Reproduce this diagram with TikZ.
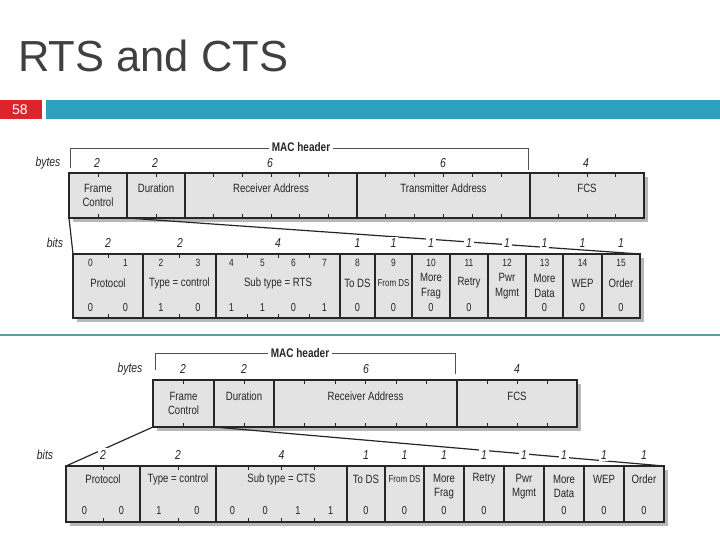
\documentclass[tikz,border=0pt]{standalone}
\usepackage{fontspec}
\setmainfont{Liberation Sans}
\newfontfamily\dfont[FakeStretch=0.8]{Liberation Sans}
\usetikzlibrary{calc}
\definecolor{tealbar}{HTML}{2DA0BD}
\definecolor{redbox}{HTML}{D9252B}
\definecolor{sepline}{HTML}{5E9EA0}
\definecolor{titlegray}{HTML}{404040}
\definecolor{boxfill}{HTML}{E3E3E3}
\definecolor{inkgray}{HTML}{262626}
\definecolor{shadowgray}{HTML}{B8B8B8}
\tikzset{
 fieldbox/.style={draw=inkgray, line width=1.1pt, fill=boxfill, inner sep=0pt, outer sep=0pt, anchor=north west},
 txt/.style={font=\dfont\fontsize{12}{14.5}\selectfont, text=inkgray, inner sep=1pt, align=center},
 smalltxt/.style={font=\dfont\fontsize{10}{12}\selectfont, text=inkgray, inner sep=1pt},
 bnumtxt/.style={font=\dfont\fontsize{10.5}{12}\selectfont, text=inkgray, inner sep=1pt},
 valtxt/.style={font=\dfont\fontsize{11.5}{13}\selectfont, text=inkgray, inner sep=1pt},
 ital/.style={font=\dfont\itshape\fontsize{13}{14}\selectfont, text=inkgray, inner sep=2pt},
 itfill/.style={ital, fill=white},
 hdrtxt/.style={font=\dfont\bfseries\fontsize{12.5}{14}\selectfont, text=inkgray, inner sep=3pt, fill=white},
 tickln/.style={draw=inkgray, line width=0.9pt},
 expln/.style={draw=inkgray, line width=1.2pt},
 bracket/.style={draw=inkgray!80, line width=0.9pt},
 shade/.style={fill=shadowgray},
}
\newcommand\mkfield[5]{\node[fieldbox, minimum width={(#3)-(#2)}, minimum height={(#5)-(#4)}] (#1) at (#2,#4) {};}
\newcommand\mkticks[2]{\pgfmathtruncatemacro\tkn{#2-1}\foreach \k in {1,...,\tkn}{\draw[tickln] ($(#1.north west)!\k/#2!(#1.north east)$) -- ++(0,4); \draw[tickln] ($(#1.south west)!\k/#2!(#1.south east)$) -- ++(0,-4);}}
\begin{document}
\begin{tikzpicture}[x=1pt,y=-1pt]
\useasboundingbox (0,0) rectangle (720,540);
% title and header bar
\node[anchor=base west, text=titlegray, font=\fontsize{43.5}{48}\selectfont, inner sep=0pt] (title) at (18,72) {RTS and CTS};
\fill[redbox] (0,100) rectangle (42,119);
\fill[tealbar] (46,100) rectangle (720,119);
\node[text=white, font=\fontsize{14}{16}\selectfont, inner sep=0pt] (pagenum) at (20,109.5) {58};
\draw[sepline, line width=2pt] (0,335) -- (720,335);

% ================= TOP (RTS) =================
\node[ital] (bytesA) at (48,163) {bytes};
\foreach \x/\n [count=\i] in {97/2,155/2,270/6,443/6,586/4} \node[ital] (byA\i) at (\x,163) {\n};
\coordinate (mhAl) at (70,168);
\coordinate (mhAtl) at (70,148);
\coordinate (mhAtr) at (528,148);
\coordinate (mhAr) at (528,170);
\draw[bracket] (mhAl) -- (mhAtl) -- (mhAtr) -- (mhAr);
\node[hdrtxt] (mhA) at (301,147) {MAC header};
\fill[shade] (73,177) rectangle (648,222);
\mkfield{fcA}{69}{127}{173}{218}
\mkfield{duA}{127}{185}{173}{218}
\mkfield{raA}{185}{357}{173}{218}
\mkfield{taA}{357}{530}{173}{218}
\mkfield{fcsA}{530}{644}{173}{218}
\mkticks{fcA}{2}\mkticks{duA}{2}\mkticks{raA}{6}\mkticks{taA}{6}\mkticks{fcsA}{4}
\node[txt] (lfcA) at (98,195.5) {Frame\\Control};
\node[txt] (lduA) at (156,188) {Duration};
\node[txt] (lraA) at (271,188) {Receiver Address};
\node[txt] (ltaA) at (443.5,188) {Transmitter Address};
\node[txt] (lfcsA) at (587,188) {FCS};

\node[ital] (bitsA) at (55,243) {bits};
\fill[shade] (77,258) rectangle (644,322);
\foreach \a/\b/\n [count=\i] in {73/143/2,143/216/2,216/340/4,340/375/1,375/412/1,412/450/1,450/488/1,488/526/1,526/563/1,563/602/1,602/640/1}{%
 \mkfield{bpA\i}{\a}{\b}{254}{318}
 \ifnum\n>1 \mkticks{bpA\i}{\n}\fi}
\draw[expln] (fcA.south west) -- (bpA1.north west);
\draw[expln] (fcA.south east) -- (bpA11.north east);
\foreach \x/\n [count=\i] in {108/2,180/2,278/4,357.5/1,393.5/1,431/1,469/1,507/1,544.5/1,582.5/1,621/1} \node[itfill] (bhA\i) at (\x,243) {\n};
\foreach \x/\n [count=\i] in {90.5/0,125.5/1,161/2,198/3,231.5/4,262.5/5,293.5/6,324.5/7,357.5/8,393.5/9,431/10,469/11,507/12,544.5/13,582.5/14,621/15} \node[bnumtxt] (bnA\i) at (\x,262.5) {\n};
\node[txt] (lprA) at (108,283) {Protocol};
\node[txt] (ltyA) at (179.5,283) {Type = control};
\node[txt] (lstA) at (278,283) {Sub type = RTS};
\node[txt] (ltdA) at (357.5,283) {To DS};
\node[smalltxt] (lfdA) at (393.5,283) {From DS};
\node[txt] (lmfA) at (431,286) {More\\Frag};
\node[txt] (lreA) at (469,283) {Retry};
\node[txt] (lpmA) at (507,286) {Pwr\\Mgmt};
\node[txt] (lmdA) at (544.5,286) {More\\Data};
\node[txt] (lweA) at (582.5,283) {WEP};
\node[txt] (lorA) at (621,283) {Order};
\foreach \x/\n [count=\i] in {90.5/0,125.5/0,161/1,198/0,231.5/1,262.5/1,293.5/0,324.5/1,357.5/0,393.5/0,431/0,469/0,544.5/0,582.5/0,621/0} \node[valtxt] (vA\i) at (\x,308) {\n};

% ================= BOTTOM (CTS) =================
\node[ital] (bytesB) at (130,369) {bytes};
\foreach \x/\n [count=\i] in {183/2,244/2,366/6,517/4} \node[ital] (byB\i) at (\x,369) {\n};
\coordinate (mhBl) at (155,370);
\coordinate (mhBtl) at (155,353);
\coordinate (mhBtr) at (455,353);
\coordinate (mhBr) at (455,374);
\draw[bracket] (mhBl) -- (mhBtl) -- (mhBtr) -- (mhBr);
\node[hdrtxt] (mhB) at (300,353) {MAC header};
\fill[shade] (157,384) rectangle (581,431);
\mkfield{fcB}{153}{214}{380}{427}
\mkfield{duB}{214}{274}{380}{427}
\mkfield{raB}{274}{457}{380}{427}
\mkfield{fcsB}{457}{577}{380}{427}
\mkticks{fcB}{2}\mkticks{duB}{2}\mkticks{raB}{6}\mkticks{fcsB}{4}
\node[txt] (lfcB) at (183.5,403.5) {Frame\\Control};
\node[txt] (lduB) at (244,396) {Duration};
\node[txt] (lraB) at (365.5,396) {Receiver Address};
\node[txt] (lfcsB) at (517,396) {FCS};

\node[ital] (bitsB) at (45,455) {bits};
\fill[shade] (70,470) rectangle (668,526);
\foreach \a/\b/\n [count=\i] in {66/140/2,140/216/2,216/347/4,347/385/1,385/424/1,424/464/1,464/504/1,504/544/1,544/584/1,584/624/1,624/664/1}{%
 \mkfield{bpB\i}{\a}{\b}{466}{522}
 \ifnum\n>1 \mkticks{bpB\i}{\n}\fi}
\draw[expln] (fcB.south west) -- (bpB1.north west);
\draw[expln] (fcB.south east) -- (bpB11.north east);
\foreach \x/\n [count=\i] in {103/2,178/2,281.5/4,366/1,404.5/1,444/1,484/1,524/1,564/1,604/1,644/1} \node[itfill] (bhB\i) at (\x,455) {\n};
\node[txt] (lprB) at (103,479) {Protocol};
\node[txt] (ltyB) at (178,479) {Type = control};
\node[txt] (lstB) at (281.5,479) {Sub type = CTS};
\node[txt] (ltdB) at (366,479) {To DS};
\node[smalltxt] (lfdB) at (404.5,479) {From DS};
\node[txt] (lmfB) at (444,486.5) {More\\Frag};
\node[txt] (lreB) at (484,479) {Retry};
\node[txt] (lpmB) at (524,486.5) {Pwr\\Mgmt};
\node[txt] (lmdB) at (564,486.5) {More\\Data};
\node[txt] (lweB) at (604,479) {WEP};
\node[txt] (lorB) at (644,479) {Order};
\foreach \x/\n [count=\i] in {84.5/0,121.5/0,159/1,197/0,232.4/0,265.1/0,297.9/1,330.6/1,366/0,404.5/0,444/0,484/0,564/0,604/0,644/0} \node[valtxt] (vB\i) at (\x,511) {\n};
\end{tikzpicture}
\end{document}
